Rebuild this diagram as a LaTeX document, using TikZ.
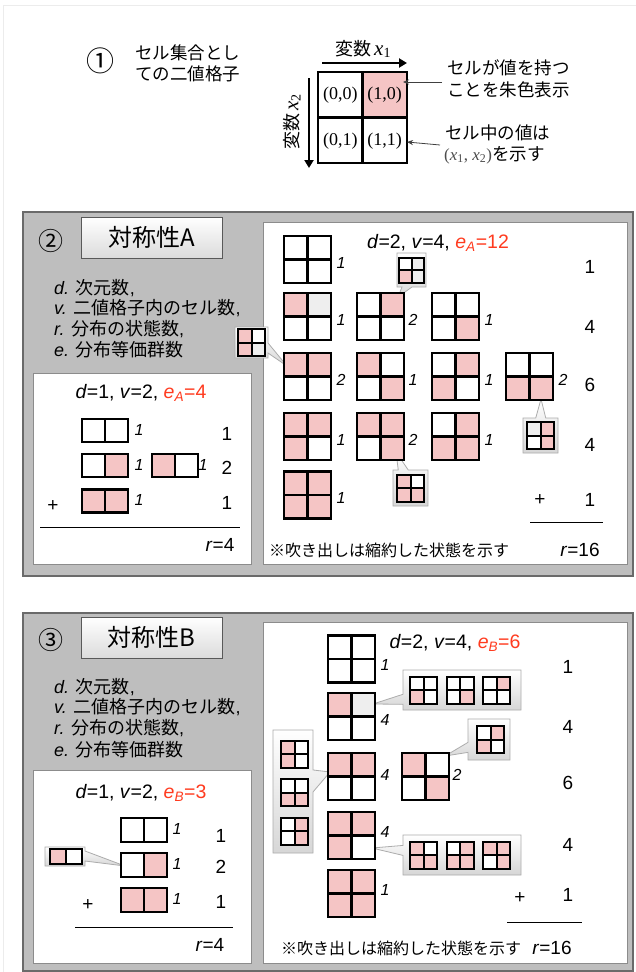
\documentclass[tikz,border=0pt]{standalone}
\usepackage{fontspec}
\setmainfont{Liberation Sans}
\newfontfamily\jp{Noto Sans CJK JP}
\newfontfamily\tms{Liberation Serif}
\usetikzlibrary{shapes.callouts,arrows.meta}
\definecolor{pk}{HTML}{F5C5C5}
\definecolor{lg}{HTML}{EEEEEE}
\definecolor{er}{HTML}{FF3B1F}
\definecolor{pgray}{HTML}{BEBEBE}
\definecolor{pbord}{HTML}{6A6A6A}
\definecolor{wbord}{HTML}{8C8C8C}
\newcommand\fsz[1]{\fontsize{#1}{#1}\selectfont}
% 2x2 grid: name, cx, cy, size, TL, TR, BL, BR, line width
\newcommand\qg[9]{%
 \node[gbox,minimum size=#4pt] (#1) at (#2,#3) {};
 \fill[#5] (#1.north west) rectangle (#1.center);
 \fill[#6] (#1.north) rectangle (#1.east);
 \fill[#7] (#1.west) rectangle (#1.south);
 \fill[#8] (#1.center) rectangle (#1.south east);
 \draw[line width=#9pt] (#1.north west) rectangle (#1.south east) (#1.north) -- (#1.south) (#1.west) -- (#1.east);
}
% 1x2 grid: name, cx, cy, w, h, L, R, line width
\newcommand\hg[8]{%
 \node[gbox,minimum width=#4pt,minimum height=#5pt] (#1) at (#2,#3) {};
 \fill[#6] (#1.north west) rectangle (#1.south);
 \fill[#7] (#1.north) rectangle (#1.south east);
 \draw[line width=#8pt] (#1.north west) rectangle (#1.south east) (#1.north) -- (#1.south);
}
\begin{document}
\begin{tikzpicture}[x=1pt,y=-1pt,
 panel/.style={fill=pgray,draw=pbord,line width=1.6pt},
 wbox/.style={fill=white,draw=wbord,line width=1pt},
 btn/.style={draw=gray!70!black,top color=white,bottom color=gray!28,line width=0.8pt,minimum width=141pt,minimum height=41pt,inner sep=0pt,font=\jp\fsz{24}},
 co/.style={rectangle callout,draw=gray!65,top color=white,bottom color=gray!32,line width=0.8pt,inner sep=0pt,outer sep=0pt,callout pointer width=10pt},
 gbox/.style={inner sep=0pt,outer sep=0pt,draw=none},
 cnt/.style={font=\fsz{16}\itshape,inner sep=0pt},
 num/.style={font=\fsz{19},inner sep=0pt},
 hdr/.style={font=\fsz{19.5},inner sep=0pt},
 deft/.style={anchor=west,font=\fsz{18},inner sep=0pt},
 jtxt/.style={anchor=west,font=\jp\fsz{17.5},inner sep=0pt},
 circ/.style={font=\jp\fsz{25},inner sep=0pt},
 bigarrow/.style={line width=2.6pt,-{Triangle[length=8pt,width=9pt]}},
 thinarrow/.style={draw=gray!50!black,line width=0.8pt,-{Stealth[length=6pt,width=5pt]}},
 rule/.style={line width=1pt},
]
\useasboundingbox (0,0) rectangle (636,972);
\fill[white] (0,0) rectangle (636,972);
\draw[gray!15,line width=1pt] (640,5) -- (3,5) -- (3,980);

% ---------------- Section 1 ----------------
\node[circ,font=\jp\fsz{28}] (n1) at (100,61) {①};
\node[jtxt] (t1a) at (135,53) {セル集合とし};
\node[jtxt] (t1b) at (135,74) {ての二値格子};
\node[gbox,minimum width=89pt,minimum height=91pt] (G) at (362.5,117.5) {};
\fill[pk] (G.north) rectangle (G.east);
\draw[line width=2.6pt] (G.north west) rectangle (G.south east) (G.north) -- (G.south) (G.west) -- (G.east);
\node[font=\tms\fsz{18},inner sep=0pt] (l00) at (340.3,95.5) {(0,0)};
\node[font=\tms\fsz{18},inner sep=0pt] (l10) at (384.7,95.5) {(1,0)};
\node[font=\tms\fsz{18},inner sep=0pt] (l01) at (340.3,141) {(0,1)};
\node[font=\tms\fsz{18},inner sep=0pt] (l11) at (384.7,141) {(1,1)};
\coordinate (ax1s) at (322,63); \coordinate (ax1e) at (407,63);
\draw[bigarrow] (ax1s) -- (ax1e);
\node[inner sep=0pt] (vx1) at (363,49) {{\jp\fsz{18}変数} {\tms\fsz{21}\itshape x}{\tms\fsz{14}\raisebox{-0.35ex}{1}}};
\coordinate (ax2s) at (309,78); \coordinate (ax2e) at (309,168);
\draw[bigarrow] (ax2s) -- (ax2e);
\node[inner sep=0pt,rotate=90] (vx2) at (292,122) {{\jp\fsz{18}変数} {\tms\fsz{21}\itshape x}{\tms\fsz{14}\raisebox{-0.35ex}{2}}};
\node[jtxt] (t1c) at (447,68) {セルが値を持つ};
\node[jtxt] (t1d) at (447,90) {ことを朱色表示};
\node[jtxt] (t1e) at (445,133) {セル中の値は};
\node[anchor=west,inner sep=0pt] (t1f) at (444,155) {{\tms\fsz{17}\color{gray!60!black}(\textit{x}\textsubscript{1}, \textit{x}\textsubscript{2})}{\jp\fsz{17.5}を示す}};
\coordinate (a1s) at (442,82); \coordinate (a1e) at (403,82);
\draw[thinarrow] (a1s) -- (a1e);
\coordinate (a2s) at (440,145); \coordinate (a2e) at (407,142);
\draw[thinarrow] (a2s) -- (a2e);

% ---------------- Section 2 ----------------
\draw[panel] (23,212) rectangle (633,576);
\node[btn] (b2) at (151.5,237.5) {対称性A};
\node[circ] (n2) at (51,241) {②};
\node[deft] (d2a) at (54,288) {\textit{d.} {\jp 次元数},};
\node[deft] (d2b) at (54,308) {\textit{v.} {\jp 二値格子内のセル数},};
\node[deft] (d2c) at (54,329) {\textit{r.} {\jp 分布の状態数},};
\node[deft] (d2d) at (54,350) {\textit{e.} {\jp 分布等価群数}};
\draw[wbox] (33,373) rectangle (251,564);
\draw[wbox] (263,222) rectangle (627,564);

% left box
\node[hdr] (h2l) at (141,393) {\textit{d}=1, \textit{v}=2, \textcolor{er}{\textit{e}\textsubscript{\textit{A}}=4}};
\hg{a1}{105}{430.5}{46}{23}{white}{white}{2.2}
\hg{a2}{105}{465.5}{46}{23}{white}{pk}{2.2}
\hg{a3}{175}{465.5}{46}{23}{pk}{white}{2.2}
\hg{a4}{105}{501}{46}{23}{pk}{pk}{2.2}
\node[cnt] (ac1) at (139,430) {1};
\node[cnt] (ac2) at (139,465) {1};
\node[cnt] (ac3) at (203,465) {1};
\node[cnt] (ac4) at (139,500) {1};
\node[num] (an1) at (227,434) {1};
\node[num] (an2) at (227,468) {2};
\node[num] (an3) at (227,503) {1};
\node[num] (apl) at (53,506) {+};
\coordinate (ar1) at (40,527); \coordinate (ar2) at (240,527);
\draw[rule] (ar1) -- (ar2);
\node[num] (ar) at (220,545) {\textit{r}=4};

% right box callouts
\coordinate (p1) at (398,297);
\node[co,minimum width=29pt,minimum height=34pt,callout absolute pointer={(p1)}] (co1) at (411.5,270) {};
\coordinate (p2) at (287,366);
\node[co,minimum width=33pt,minimum height=31pt,callout absolute pointer={(p2)}] (co2) at (251.5,342.5) {};
\coordinate (p3) at (541,399);
\node[co,minimum width=35pt,minimum height=35pt,callout absolute pointer={(p3)}] (co3) at (540.5,435.5) {};
\coordinate (p4) at (396,452);
\node[co,minimum width=35pt,minimum height=36pt,callout absolute pointer={(p4)}] (co4) at (410.5,488) {};
\qg{co1g}{411.5}{270}{25}{white}{lg}{pk}{lg}{2}
\qg{co2g}{251.5}{342.5}{27}{pk}{white}{pk}{lg}{2}
\qg{co3g}{540.5}{435.5}{27}{lg}{pk}{white}{pk}{2}
\qg{co4g}{410.5}{488}{27}{pk}{white}{pk}{pk}{2}

% right box grids
\node[hdr] (h2r) at (438,243) {\textit{d}=2, \textit{v}=4, \textcolor{er}{\textit{e}\textsubscript{\textit{A}}=12}};
\qg{r11}{307.5}{259.5}{47}{white}{white}{white}{white}{2.6}
\qg{r21}{307.5}{316.5}{47}{pk}{lg}{white}{white}{2.6}
\qg{r22}{380.5}{316.5}{47}{white}{pk}{white}{white}{2.6}
\qg{r23}{455.5}{316.5}{47}{white}{white}{white}{pk}{2.6}
\qg{r31}{307.5}{376.5}{47}{pk}{pk}{white}{white}{2.6}
\qg{r32}{380.5}{376.5}{47}{pk}{white}{white}{pk}{2.6}
\qg{r33}{455.5}{376.5}{47}{white}{pk}{pk}{white}{2.6}
\qg{r34}{529.5}{376.5}{47}{white}{white}{pk}{pk}{2.6}
\qg{r41}{307.5}{436.5}{47}{pk}{pk}{pk}{white}{2.6}
\qg{r42}{380.5}{436.5}{47}{pk}{pk}{white}{pk}{2.6}
\qg{r43}{455.5}{436.5}{47}{white}{pk}{pk}{pk}{2.6}
\qg{r51}{307.5}{495}{47}{pk}{pk}{pk}{pk}{2.6}
\node[cnt] (rc11) at (341,263) {1};
\node[cnt] (rc21) at (341,320) {1};
\node[cnt] (rc22) at (413,320) {2};
\node[cnt] (rc23) at (489,320) {1};
\node[cnt] (rc31) at (341,380) {2};
\node[cnt] (rc32) at (413,380) {1};
\node[cnt] (rc33) at (489,380) {1};
\node[cnt] (rc34) at (563,380) {2};
\node[cnt] (rc41) at (341,440) {1};
\node[cnt] (rc42) at (413,440) {2};
\node[cnt] (rc43) at (489,440) {1};
\node[cnt] (rc51) at (341,498) {1};
\node[num] (rn1) at (590,267) {1};
\node[num] (rn2) at (590,327) {4};
\node[num] (rn3) at (590,385) {6};
\node[num] (rn4) at (590,445) {4};
\node[num] (rn5) at (590,500) {1};
\node[num] (rpl) at (540,500) {+};
\coordinate (rr1) at (530,522); \coordinate (rr2) at (603,522);
\draw[rule] (rr1) -- (rr2);
\node[anchor=west,inner sep=0pt,font=\jp\fsz{16}] (note2) at (269,550) {※吹き出しは縮約した状態を示す};
\node[num] (rr) at (580,550) {\textit{r}=16};

% ---------------- Section 3 ----------------
\draw[panel] (23,613) rectangle (633,971);
\node[btn] (b3) at (151.5,637.5) {対称性B};
\node[circ] (n3) at (51,640) {③};
\node[deft] (d3a) at (54,687) {\textit{d.} {\jp 次元数},};
\node[deft] (d3b) at (54,707) {\textit{v.} {\jp 二値格子内のセル数},};
\node[deft] (d3c) at (54,728) {\textit{r.} {\jp 分布の状態数},};
\node[deft] (d3d) at (54,750) {\textit{e.} {\jp 分布等価群数}};
\draw[wbox] (33,770) rectangle (251,963);
\draw[wbox] (263,622) rectangle (627,963);

% left box
\node[hdr] (h3l) at (141,793) {\textit{d}=1, \textit{v}=2, \textcolor{er}{\textit{e}\textsubscript{\textit{B}}=3}};
\coordinate (p9) at (125,866);
\node[co,minimum width=40pt,minimum height=19pt,callout absolute pointer={(p9)}] (co9) at (65,856.5) {};
\hg{co9g}{66}{856}{32}{15}{pk}{white}{2}
\hg{b1}{144}{830}{46}{24}{white}{white}{2.2}
\hg{b2g}{144}{865}{46}{24}{white}{pk}{2.2}
\hg{b3g}{144}{900}{46}{24}{pk}{pk}{2.2}
\node[cnt] (bc1) at (177,829) {1};
\node[cnt] (bc2) at (177,864) {1};
\node[cnt] (bc3) at (177,899) {1};
\node[num] (bn1) at (221,836) {1};
\node[num] (bn2) at (221,867) {2};
\node[num] (bn3) at (221,902) {1};
\node[num] (bpl) at (88,905) {+};
\coordinate (br1) at (75,927); \coordinate (br2) at (233,927);
\draw[rule] (br1) -- (br2);
\node[num] (br) at (210,945) {\textit{r}=4};

% right box callouts
\coordinate (p5) at (373,704);
\node[co,minimum width=118pt,minimum height=40pt,callout absolute pointer={(p5)}] (co5) at (462,690) {};
\coordinate (p6) at (330,772);
\node[co,callout pointer width=22pt,minimum width=40pt,minimum height=123pt,callout absolute pointer={(p6)}] (co6) at (293,791.5) {};
\coordinate (p7) at (445,756);
\node[co,minimum width=42pt,minimum height=41pt,callout absolute pointer={(p7)}] (co7) at (489,739.5) {};
\coordinate (p8) at (372,848);
\node[co,minimum width=118pt,minimum height=40pt,callout absolute pointer={(p8)}] (co8) at (462,855) {};
\qg{c5a}{423.5}{690}{27}{white}{white}{pk}{white}{2}
\qg{c5b}{460}{690}{27}{white}{white}{white}{pk}{2}
\qg{c5c}{496.5}{690}{27}{white}{pk}{white}{white}{2}
\qg{c6a}{294.5}{754}{27}{pk}{white}{pk}{white}{2}
\qg{c6b}{294.5}{792.5}{27}{white}{white}{pk}{pk}{2}
\qg{c6c}{294.5}{831}{27}{white}{pk}{white}{pk}{2}
\qg{c7a}{490.5}{739.5}{27}{white}{pk}{pk}{white}{2}
\qg{c8a}{423.5}{855}{27}{pk}{white}{pk}{pk}{2}
\qg{c8b}{460}{855}{27}{white}{pk}{pk}{pk}{2}
\qg{c8c}{496.5}{855}{27}{pk}{pk}{white}{pk}{2}

% right box grids
\node[hdr] (h3r) at (455,643) {\textit{d}=2, \textit{v}=4, \textcolor{er}{\textit{e}\textsubscript{\textit{B}}=6}};
\qg{s1}{351.5}{659}{47}{white}{white}{white}{white}{2.6}
\qg{s2}{351.5}{716.5}{47}{pk}{lg}{white}{white}{2.6}
\qg{s3}{351.5}{776.5}{47}{pk}{pk}{white}{white}{2.6}
\qg{s3b}{425.5}{776.5}{47}{pk}{white}{white}{pk}{2.6}
\qg{s4}{351.5}{835.5}{47}{pk}{pk}{pk}{white}{2.6}
\qg{s5}{351.5}{893.5}{47}{pk}{pk}{pk}{pk}{2.6}
\node[cnt] (sc1) at (385,665) {1};
\node[cnt] (sc2) at (385,720) {4};
\node[cnt] (sc3) at (385,775) {4};
\node[cnt] (sc3b) at (457,775) {2};
\node[cnt] (sc4) at (385,832) {4};
\node[cnt] (sc5) at (385,890) {1};
\node[num] (sn1) at (568,667) {1};
\node[num] (sn2) at (568,727) {4};
\node[num] (sn3) at (568,783) {6};
\node[num] (sn4) at (568,845) {4};
\node[num] (sn5) at (568,895) {1};
\node[num] (spl) at (520,898) {+};
\coordinate (sr1) at (507,922); \coordinate (sr2) at (582,922);
\draw[rule] (sr1) -- (sr2);
\node[anchor=west,inner sep=0pt,font=\jp\fsz{16}] (note3) at (281,948) {※吹き出しは縮約した状態を示す};
\node[num] (sr) at (552,948) {\textit{r}=16};
\end{tikzpicture}
\end{document}
